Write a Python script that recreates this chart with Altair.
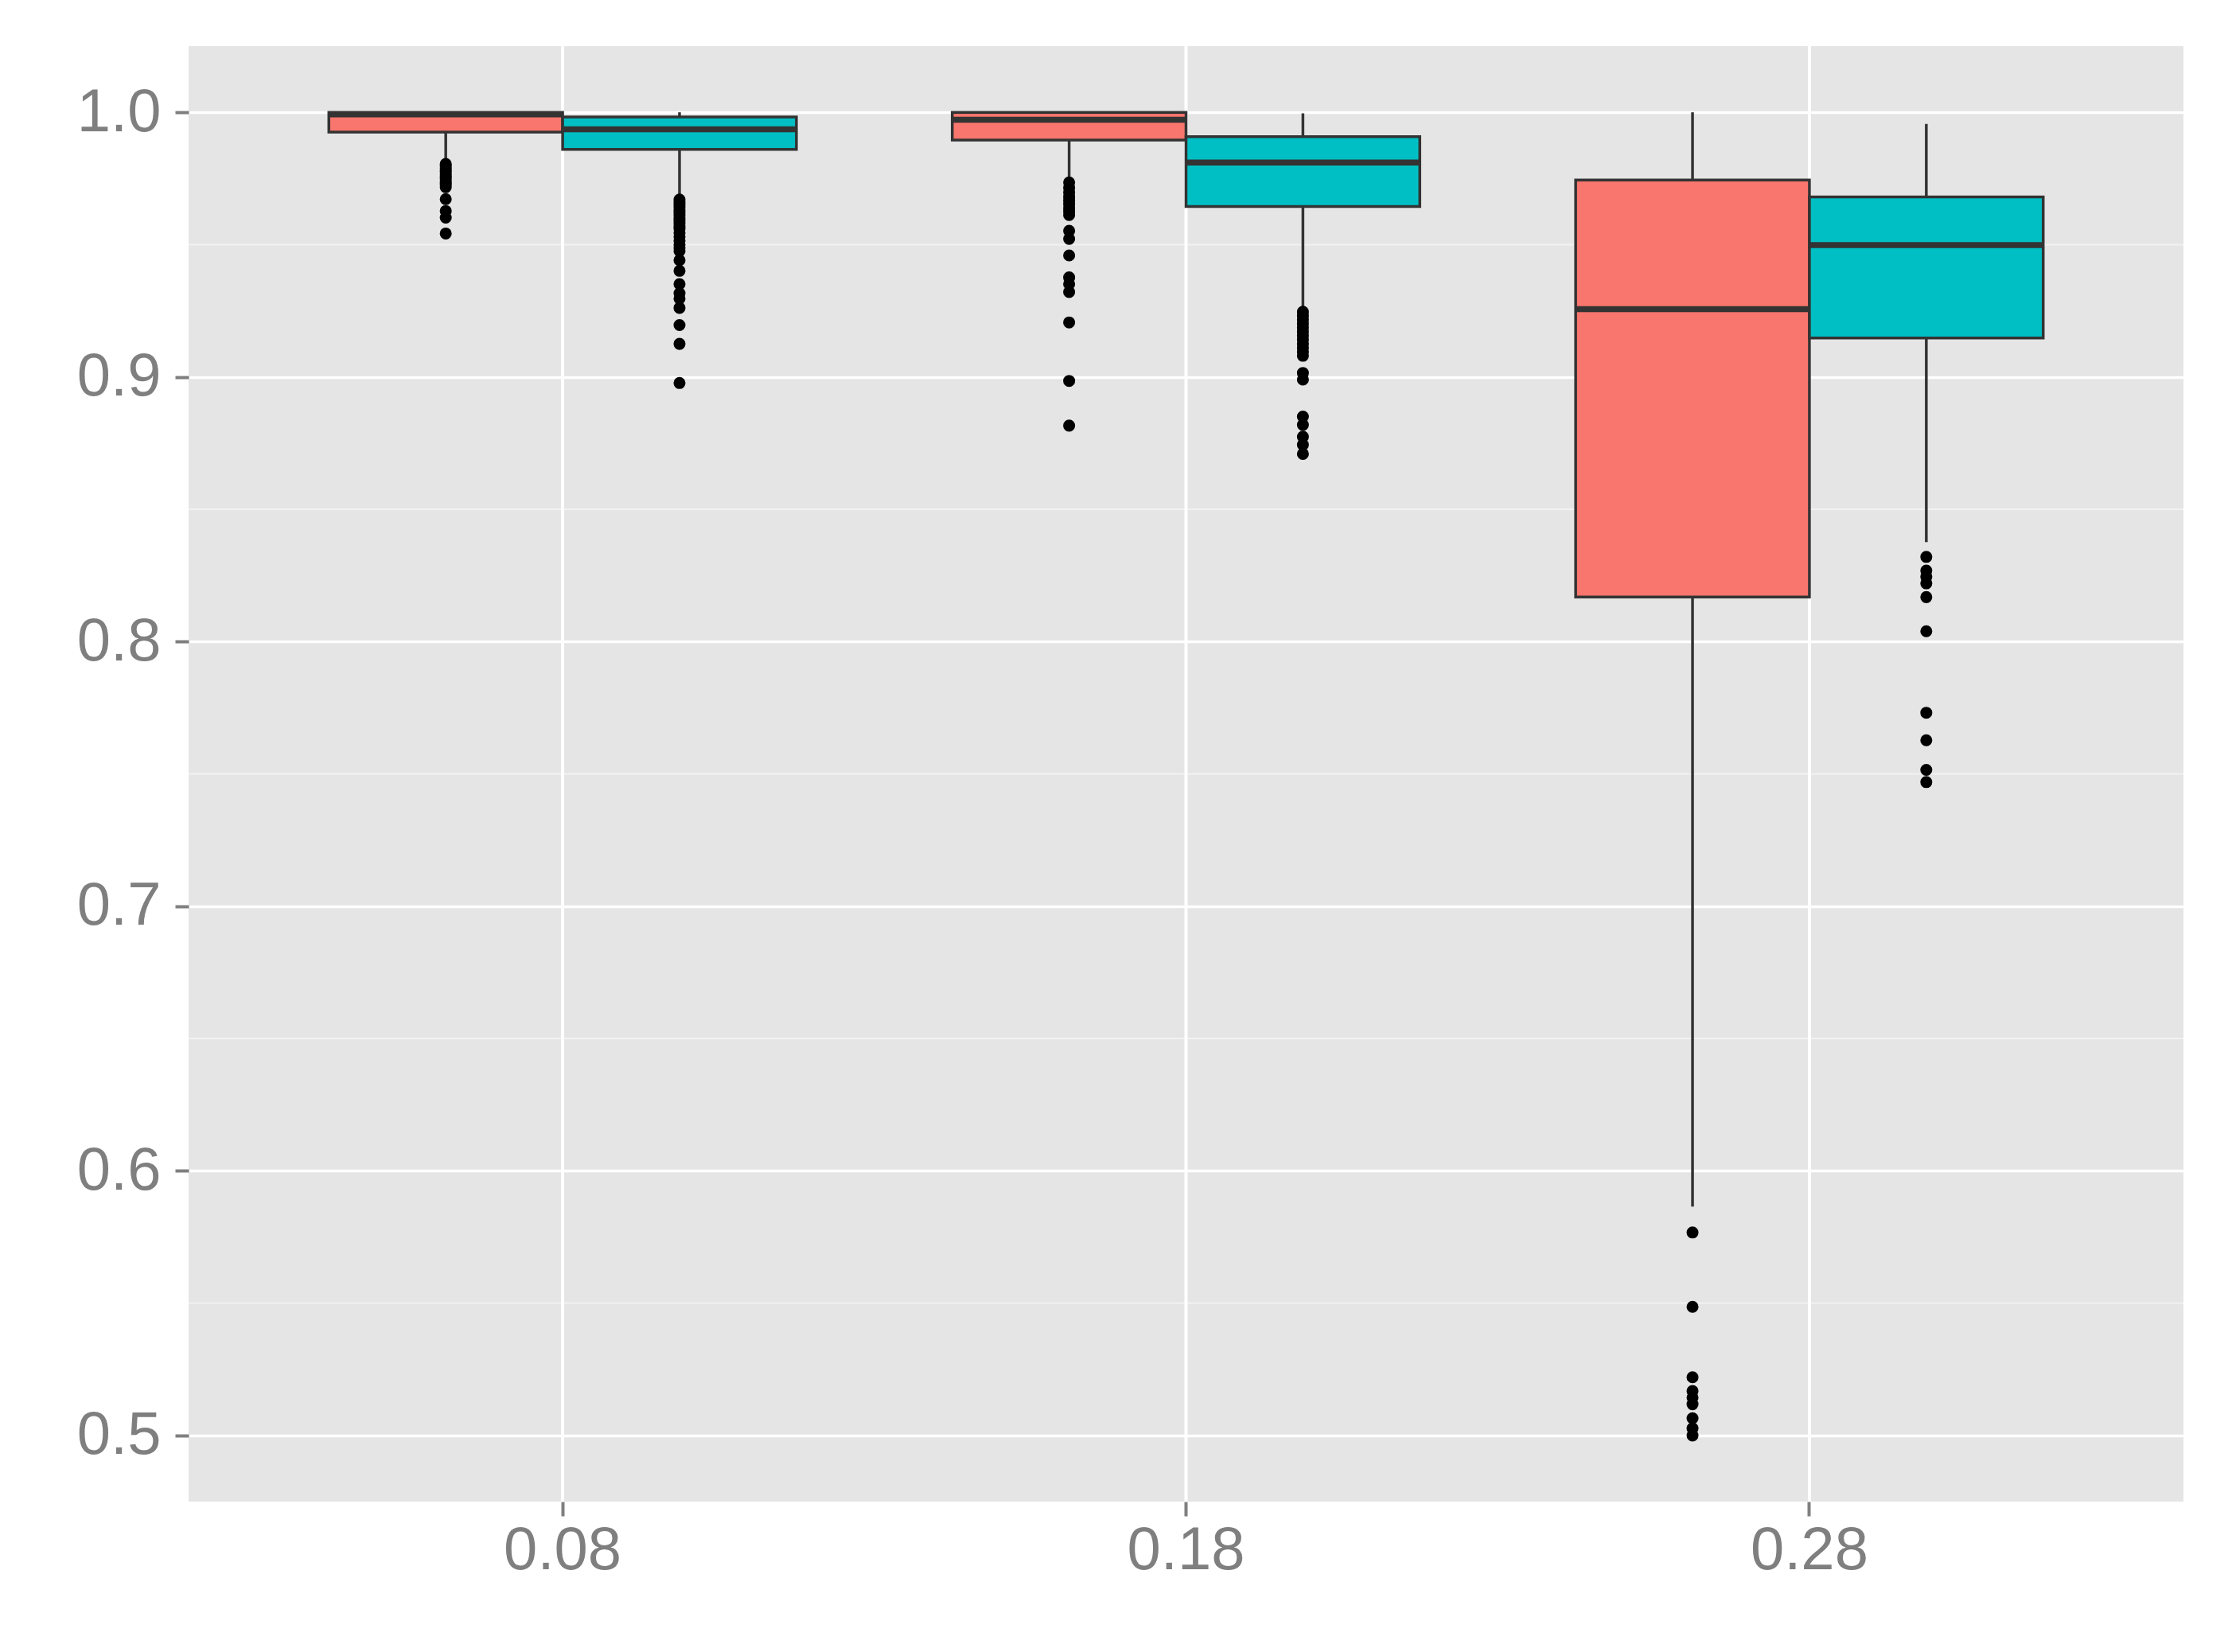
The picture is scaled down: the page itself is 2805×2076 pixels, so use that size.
import altair as alt
import pandas as pd

# ---- data ----
group_order = ["0.08", "0.18", "0.28"]
series_order = ["A", "B"]

box_group = ["0.08", "0.08", "0.18", "0.18", "0.28", "0.28"]
box_series = ["A", "B", "A", "B", "A", "B"]
whisker_lo = [0.9813, 0.9677, 0.9742, 0.9261, 0.5865, 0.8376]
q1 = [0.9925, 0.9860, 0.9895, 0.9644, 0.8168, 0.9147]
median = [0.9992, 0.9936, 0.9972, 0.9810, 0.9256, 0.9498]
q3 = [1.0000, 0.9982, 1.0000, 0.9908, 0.9744, 0.9680]
whisker_hi = [1.0000, 1.0000, 1.0000, 0.9996, 1.0000, 0.9956]

out_008_a = [0.9805, 0.9797, 0.9789, 0.9781, 0.9773, 0.9765, 0.9757, 0.9749,
             0.9741, 0.9733, 0.9725, 0.9717, 0.9672, 0.9627, 0.9602, 0.9542]
out_008_b = [0.9670, 0.9660, 0.9650, 0.9640, 0.9630, 0.9620, 0.9610, 0.9600,
             0.9590, 0.9580, 0.9570, 0.9560, 0.9545, 0.9530, 0.9515, 0.9500,
             0.9488, 0.9476, 0.9441, 0.9401, 0.9351, 0.9316, 0.9296, 0.9261,
             0.9196, 0.9125, 0.8977]
out_018_a = [0.9735, 0.9715, 0.9697, 0.9680, 0.9667, 0.9652, 0.9637, 0.9625,
             0.9612, 0.9552, 0.9522, 0.9459, 0.9376, 0.9351, 0.9321, 0.9206,
             0.8985, 0.8816]
out_018_b = [0.9246, 0.9231, 0.9216, 0.9201, 0.9186, 0.9171, 0.9156, 0.9141,
             0.9125, 0.9110, 0.9095, 0.9080, 0.9015, 0.8990, 0.8850, 0.8819,
             0.8774, 0.8744, 0.8709]
out_028_a = [0.5767, 0.5486, 0.5220, 0.5168, 0.5143, 0.5118, 0.5065, 0.5027, 0.5000]
out_028_b = [0.8320, 0.8268, 0.8245, 0.8220, 0.8168, 0.8039, 0.7731, 0.7627,
             0.7515, 0.7469]

y_major = [0.5, 0.6, 0.7, 0.8, 0.9, 1.0]
y_minor = [0.55, 0.65, 0.75, 0.85, 0.95]
y_domain = [0.475, 1.025]

# ---- tables ----
box_df = pd.DataFrame({
    "group": box_group, "series": box_series,
    "lo": whisker_lo, "q1": q1, "median": median, "q3": q3, "hi": whisker_hi,
})

out_rows = []
for g, s, vals in [("0.08", "A", out_008_a), ("0.08", "B", out_008_b),
                   ("0.18", "A", out_018_a), ("0.18", "B", out_018_b),
                   ("0.28", "A", out_028_a), ("0.28", "B", out_028_b)]:
    for v in vals:
        out_rows.append({"group": g, "series": s, "v": v})
out_df = pd.DataFrame(out_rows)

minor_df = pd.DataFrame({"v": y_minor})
grp_df = pd.DataFrame({"group": group_order})

# ---- styles ----
FONT = "Liberation Sans"
GREY = "#7F7F7F"
LINE = "#333333"

x_axis = alt.Axis(title=None, labelFont=FONT, labelFontSize=76, labelColor=GREY,
                  tickColor=GREY, tickSize=18, tickWidth=4, domain=False,
                  grid=False, labelPadding=6, labelAngle=0, bandPosition=0.5)
y_axis = alt.Axis(title=None, values=y_major, format=".1f", labelFont=FONT,
                  labelFontSize=76, labelColor=GREY, tickColor=GREY,
                  tickSize=17, tickWidth=4, domain=False, grid=True,
                  gridColor="white", gridWidth=3.5, labelPadding=18)

x_scale = alt.Scale(domain=group_order, paddingInner=0.25, paddingOuter=0.225)
xo_scale = alt.Scale(domain=series_order, paddingInner=0, paddingOuter=0)
y_scale = alt.Scale(domain=y_domain, nice=False, zero=False)

X = alt.X("group:N", scale=x_scale, axis=x_axis, sort=group_order)
XO = alt.XOffset("series:N", scale=xo_scale, sort=series_order)

def Y(field):
    return alt.Y(field, type="quantitative", scale=y_scale, axis=y_axis)

minor = alt.Chart(minor_df).mark_rule(color="#F2F2F2", strokeWidth=2).encode(
    y=Y("v"))

vgrid = alt.Chart(grp_df).mark_rule(color="white", strokeWidth=4).encode(x=X)

w_lo = alt.Chart(box_df).mark_rule(color=LINE, strokeWidth=3.5).encode(
    x=X, xOffset=XO, y=Y("lo"), y2="q1")
w_hi = alt.Chart(box_df).mark_rule(color=LINE, strokeWidth=3.5).encode(
    x=X, xOffset=XO, y=Y("q3"), y2="hi")

boxes = alt.Chart(box_df).mark_bar(stroke=LINE, strokeWidth=3.5, opacity=1).encode(
    x=X, xOffset=XO, y=Y("q1"), y2="q3",
    color=alt.Color("series:N", scale=alt.Scale(domain=series_order,
                                                range=["#F8766D", "#00BFC4"]),
                    legend=None))

med = alt.Chart(box_df).mark_bar(stroke=LINE, strokeWidth=7.5, fillOpacity=0).encode(
    x=X, xOffset=XO, y=Y("median"), y2="median")

pts = alt.Chart(out_df).mark_circle(color="black", size=227, opacity=1).encode(
    x=X, xOffset=XO, y=Y("v"))

chart = alt.layer(minor, vgrid, w_lo, w_hi, boxes, med, pts).properties(
    width=2507, height=1829,
    padding={"left": 229, "top": 50, "right": 45, "bottom": 170},
    autosize=alt.AutoSizeParams(type="none"),
    background="white",
).configure_view(fill="#E5E5E5", stroke=None)

chart.save("out.html", embed_options={"renderer": "svg", "actions": False})
